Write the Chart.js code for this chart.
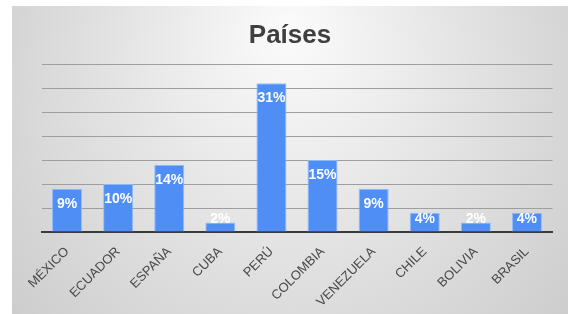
<!DOCTYPE html>
<html>
<head>
<meta charset="utf-8">
<script src="https://cdn.jsdelivr.net/npm/chart.js@4/dist/chart.umd.min.js"></script>
<style>
html,body{margin:0;padding:0;background:#fff;}
canvas{display:block;}
</style>
</head>
<body>
<canvas id="c" width="568" height="314"></canvas>
<script>
const categories = ["MÉXICO","ECUADOR","ESPAÑA","CUBA","PERÚ","COLOMBIA","VENEZUELA","CHILE","BOLIVIA","BRASIL"];
const shares = [9,10,14,2,31,15,9,4,2,4];
const titleText = "Países";
const yMax = 35;
const yStep = 5;

const bgPlugin = {
  id: 'bg',
  beforeDraw(chart) {
    const ctx = chart.ctx;
    ctx.save();
    ctx.fillStyle = '#ffffff';
    ctx.fillRect(0, 0, chart.width, chart.height);
    const g = ctx.createRadialGradient(290, 30, 10, 290, 120, 400);
    g.addColorStop(0, '#fafafa');
    g.addColorStop(0.45, '#e2e2e2');
    g.addColorStop(1, '#c6c6c6');
    ctx.fillStyle = g;
    ctx.fillRect(12, 6, chart.width - 12, chart.height - 6);
    ctx.fillStyle = '#3f3f3f';
    ctx.font = 'bold 26px "Liberation Sans", Arial, sans-serif';
    ctx.textAlign = 'center';
    ctx.textBaseline = 'alphabetic';
    ctx.fillText(titleText, 290, 43);
    ctx.restore();
  }
};

const labelPlugin = {
  id: 'vals',
  afterDatasetsDraw(chart) {
    const ctx = chart.ctx;
    const meta = chart.getDatasetMeta(0);
    ctx.save();
    ctx.fillStyle = '#ffffff';
    ctx.font = 'bold 14px "Liberation Sans", Arial, sans-serif';
    ctx.textAlign = 'center';
    ctx.textBaseline = 'middle';
    meta.data.forEach((bar, i) => {
      const cy = Math.min(bar.y + 15, bar.base - 12);
      ctx.fillText(shares[i] + '%', bar.x, cy);
    });
    ctx.restore();
  }
};

new Chart(document.getElementById('c'), {
  type: 'bar',
  data: {
    labels: categories,
    datasets: [{
      data: shares,
      backgroundColor: '#4f8ef5',
      borderColor: 'rgba(140,185,250,0.9)',
      borderWidth: 1,
      categoryPercentage: 0.6,
      barPercentage: 0.98
    }]
  },
  options: {
    responsive: false,
    animation: false,
    devicePixelRatio: 1,
    layout: { padding: { left: 41.5, right: 15.5, top: 64, bottom: 0 } },
    plugins: {
      legend: { display: false },
      title: { display: false },
      tooltip: { enabled: false }
    },
    scales: {
      x: {
        grid: { display: false },
        border: { display: true, color: '#3a3a3a', width: 2 },
        ticks: {
          minRotation: 45, maxRotation: 45,
          color: '#4a4a4a',
          font: { family: '"Liberation Sans", Arial, sans-serif', size: 13 },
          padding: 4
        },
        afterFit(s) { s.height = 82; }
      },
      y: {
        min: 0, max: yMax,
        ticks: { display: false, stepSize: yStep },
        grid: { color: '#9e9e9e', lineWidth: 1, drawTicks: false },
        border: { display: false },
        afterFit(s) { s.width = 0; }
      }
    }
  },
  plugins: [bgPlugin, labelPlugin]
});
</script>
</body>
</html>
